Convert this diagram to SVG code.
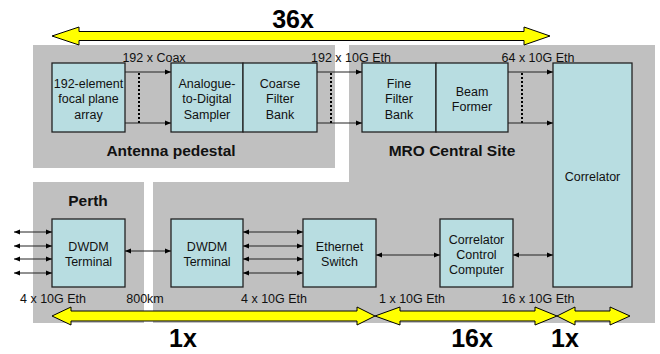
<svg xmlns="http://www.w3.org/2000/svg" width="660" height="354" viewBox="0 0 660 354">
<defs>
<marker id="ah" viewBox="0 0 10 10" refX="10" refY="5" markerWidth="6" markerHeight="6" markerUnits="userSpaceOnUse" orient="auto-start-reverse">
<path d="M0,1 L10,5 L0,9 z" fill="#000"/>
</marker>
<style>
.site{fill:#c0c0c0}
.box{fill:#b8dde1;stroke:#222;stroke-width:1.3}
.t{font-family:"Liberation Sans",Arial,sans-serif;font-size:12.5px;fill:#111;text-anchor:middle}
.b{font-family:"Liberation Sans",Arial,sans-serif;font-size:15.5px;font-weight:bold;fill:#111;text-anchor:middle}
.big{font-family:"Liberation Sans",Arial,sans-serif;font-size:25px;font-weight:bold;fill:#000;text-anchor:middle}
.ln{stroke:#222;stroke-width:1;fill:none}
.one{marker-end:url(#ah)}
.two{marker-start:url(#ah);marker-end:url(#ah)}
.dot{stroke:#000;stroke-width:2;stroke-dasharray:2,2;fill:none}
.ya{fill:#ffff00;stroke:#000;stroke-width:1}
</style>
</defs>
<g id="sites">
<rect id="antenna-pedestal" class="site" x="33" y="45" width="302" height="123"/>
<path id="mro-central-site" class="site" d="M349,45 H655 V323 H153 V182 H349 Z"/>
<rect id="perth" class="site" x="33" y="182" width="111" height="141"/>
<text class="b" x="171" y="155.5">Antenna pedestal</text>
<text class="b" x="452" y="155.5">MRO Central Site</text>
<text class="b" x="88" y="205.5">Perth</text>
</g>
<g id="focal-plane"><rect class="box" x="52" y="63" width="73" height="69"/><text class="t" x="88.5" y="88">192-element</text><text class="t" x="88.5" y="103">focal plane</text><text class="t" x="88.5" y="118.5">array</text></g>
<g id="adc"><rect class="box" x="171" y="63" width="72" height="69"/><text class="t" x="207" y="88">Analogue-</text><text class="t" x="207" y="103">to-Digital</text><text class="t" x="207" y="118.5">Sampler</text></g>
<g id="coarse-filter"><rect class="box" x="243" y="63" width="74" height="69"/><text class="t" x="280" y="88">Coarse</text><text class="t" x="280" y="103">Filter</text><text class="t" x="280" y="118.5">Bank</text></g>
<g id="fine-filter"><rect class="box" x="362" y="63" width="74" height="69"/><text class="t" x="399" y="88">Fine</text><text class="t" x="399" y="103">Filter</text><text class="t" x="399" y="118.5">Bank</text></g>
<g id="beam-former"><rect class="box" x="436" y="63" width="72" height="69"/><text class="t" x="472" y="95.5">Beam</text><text class="t" x="472" y="110.5">Former</text></g>
<g id="correlator"><rect class="box" x="553" y="63" width="79" height="224"/><text class="t" x="592.5" y="180.5">Correlator</text></g>
<g id="dwdm-perth"><rect class="box" x="52" y="219" width="73" height="68"/><text class="t" x="88.5" y="250.5">DWDM</text><text class="t" x="88.5" y="265.5">Terminal</text></g>
<g id="dwdm-mro"><rect class="box" x="171" y="219" width="72" height="68"/><text class="t" x="207" y="250.5">DWDM</text><text class="t" x="207" y="265.5">Terminal</text></g>
<g id="ethernet-switch"><rect class="box" x="303" y="219" width="73" height="68"/><text class="t" x="339.5" y="250.5">Ethernet</text><text class="t" x="339.5" y="265.5">Switch</text></g>
<g id="correlator-control"><rect class="box" x="440" y="219" width="73" height="68"/><text class="t" x="476.5" y="243.5">Correlator</text><text class="t" x="476.5" y="258.5">Control</text><text class="t" x="476.5" y="273.5">Computer</text></g>
<g id="connectors">
<line class="ln one" x1="125" y1="72" x2="171" y2="72"/>
<line class="ln one" x1="125" y1="123" x2="171" y2="123"/>
<line class="dot" x1="139" y1="73" x2="139" y2="123"/>
<line class="ln one" x1="317" y1="72" x2="362" y2="72"/>
<line class="ln one" x1="317" y1="123" x2="362" y2="123"/>
<line class="dot" x1="331" y1="73" x2="331" y2="123"/>
<line class="ln one" x1="508" y1="72" x2="553" y2="72"/>
<line class="ln one" x1="508" y1="123" x2="553" y2="123"/>
<line class="dot" x1="522" y1="73" x2="522" y2="123"/>
<line class="ln two" x1="14" y1="232" x2="52" y2="232"/>
<line class="ln two" x1="14" y1="246" x2="52" y2="246"/>
<line class="ln two" x1="14" y1="259" x2="52" y2="259"/>
<line class="ln two" x1="14" y1="273" x2="52" y2="273"/>
<line class="ln two" x1="125" y1="251" x2="171" y2="251" stroke="#555"/>
<line class="ln two" x1="243" y1="232" x2="303" y2="232"/>
<line class="ln two" x1="243" y1="246" x2="303" y2="246"/>
<line class="ln two" x1="243" y1="259" x2="303" y2="259"/>
<line class="ln two" x1="243" y1="273" x2="303" y2="273"/>
<line class="ln two" x1="376" y1="255" x2="440" y2="255"/>
<line class="ln two" x1="513" y1="255" x2="553" y2="255"/>
<text class="t" x="154" y="61.5">192 x Coax</text>
<text class="t" x="351" y="61.5">192 x 10G Eth</text>
<text class="t" x="538" y="61.5">64 x 10G Eth</text>
<text class="t" x="53" y="302.5">4 x 10G Eth</text>
<text class="t" x="145" y="302.5">800km</text>
<text class="t" x="274" y="302.5">4 x 10G Eth</text>
<text class="t" x="412" y="302.5">1 x 10G Eth</text>
<text class="t" x="538" y="302.5">16 x 10G Eth</text>
</g>
<g id="multiplicity">
<path class="ya" d="M52,36 L79,27 V31.5 H524 V27 L550,36 L524,45 V40.5 H79 V45 Z"/>
<path class="ya" d="M52,316 L71,307 V311 H357 V307 L375,316 L357,325 V321 H71 V325 Z"/>
<path class="ya" d="M375,316 L400,307 V311 H535 V307 L557,316 L535,325 V321 H400 V325 Z"/>
<path class="ya" d="M557,316 L575,307 V311 H610 V307 L630,316 L610,325 V321 H575 V325 Z"/>
<text class="big" x="293" y="28">36x</text>
<text class="big" x="183" y="347">1x</text>
<text class="big" x="472" y="347">16x</text>
<text class="big" x="565" y="347">1x</text>
</g>
</svg>
